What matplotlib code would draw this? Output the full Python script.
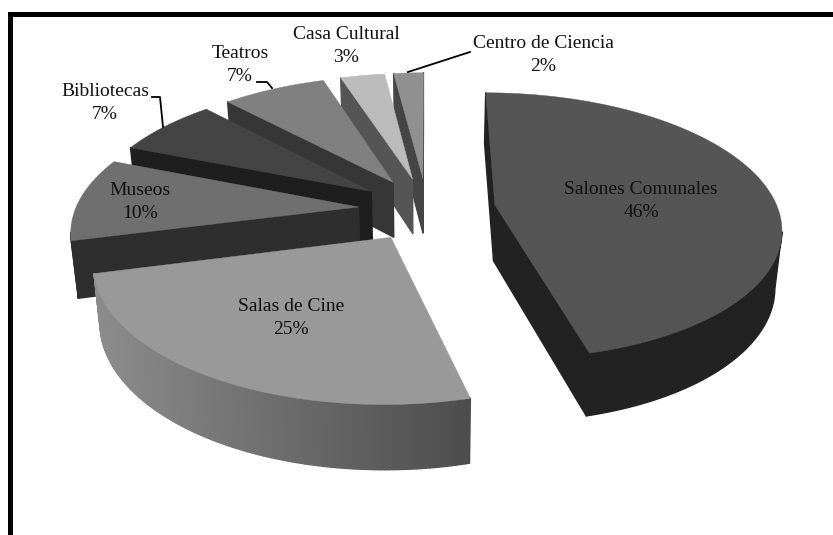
import numpy as np
from matplotlib import pyplot as plt
from matplotlib.patches import Polygon

plt.rcParams['font.family'] = ['Liberation Serif', 'DejaVu Serif']

labels = ["Salones Comunales", "Salas de Cine", "Museos", "Bibliotecas", "Teatros", "Casa Cultural", "Centro de Ciencia"]
values = [46, 25, 10, 7, 7, 3, 2]

top_colors = ["#555555", "#999999", "#6f6f6f", "#444444", "#808080", "#bbbbbb", "#909090"]
# wall colour at the right and left end of each slice
wall_right = ["#222222", "#4d4d4d", "#2e2e2e", "#1e1e1e", "#363636", "#555555", "#454545"]
wall_left = ["#222222", "#8c8c8c", "#2e2e2e", "#1e1e1e", "#363636", "#555555", "#454545"]

# label centres and leader lines, in pixels
label_pos = [(641, 201), (291, 318), (140, 202), (105, 103), (240, 65), (346, 46), (543, 55)]
leaders = [
    [(152, 97), (160, 97), (163, 127)],
    [(257, 82), (267, 82), (272, 88)],
    [(470, 52), (408, 72)],
]

# camera for the tilted pie
U0, V0 = 427, 209
A, B = 283, 131
K = 0.157
H = 56
EXPLODE = 0.243
SHRINK = 0.98


def project(x, y, bottom=False):
    s = 1 / (1 + K * y)
    if bottom:
        return U0 + A * x * s * SHRINK, V0 - B * y * s * SHRINK + H * s
    return U0 + A * x * s, V0 - B * y * s


def wall(ax, pts, color, order):
    # wall under the top edge pts, down to the same edge at the bottom
    upper = [project(*p) for p in pts]
    lower = [project(*p, bottom=True) for p in pts[::-1]]
    ax.add_patch(Polygon(upper + lower, closed=True, fc=color, ec=color, lw=1.0,
                         joinstyle="round", zorder=order))


def gray(c):
    return int(c[1:3], 16)


fig = plt.figure(figsize=(8.33, 5.35), dpi=100)
ax = fig.add_axes([0, 0, 1, 1])
ax.set_xlim(0, 833)
ax.set_ylim(535, 0)
ax.axis("off")

total = sum(values)
edges = np.cumsum([0] + values) / total * 2 * np.pi

# back slices first, so the front ones sit on top
draw_order = [6, 5, 4, 3, 2, 1, 0]
for n, i in enumerate(draw_order):
    t0, t1 = edges[i], edges[i + 1]
    mid = (t0 + t1) / 2
    ox, oy = EXPLODE * np.sin(mid), EXPLODE * np.cos(mid)
    ts = np.linspace(t0, t1, 120)
    arc = [(ox + np.sin(t), oy + np.cos(t)) for t in ts]
    apex = (ox, oy)
    order = 2 + n * 2

    us = [project(*p)[0] for p in arc]
    umin, umax = min(us), max(us)
    gl, gr = gray(wall_left[i]), gray(wall_right[i])

    # only walls that face the viewer
    if project(*arc[0])[0] < project(*apex)[0]:
        wall(ax, [apex, arc[0]], wall_right[i], order)
    if project(*apex)[0] < project(*arc[-1])[0]:
        wall(ax, [arc[-1], apex], wall_right[i], order)
    front = [k for k in range(len(arc) - 1) if us[k + 1] < us[k]]
    if gl == gr:
        if front:
            wall(ax, arc[front[0]:front[-1] + 2], wall_right[i], order)
    else:
        for k in front:
            f = (us[k] - umin) / (umax - umin)
            g = (gl + (gr - gl) * f) / 255
            wall(ax, arc[k:k + 2], (g, g, g), order)

    top = [project(*apex)] + [project(*p) for p in arc]
    ax.add_patch(Polygon(top, closed=True, fc=top_colors[i], ec=top_colors[i], lw=0.3, zorder=order + 1))

for name, val, (x, y) in zip(labels, values, label_pos):
    ax.text(x, y, f"{name}\n{val}%", ha="center", va="center", fontsize=14, color="#111111",
            linespacing=1.45, zorder=30)

for line in leaders:
    xs, ys = zip(*line)
    ax.plot(xs, ys, color="black", lw=1.3, zorder=29)

# frame, only top and left are inside the picture
ax.plot([10.5, 10.5, 833], [535, 13.5, 13.5], color="black", lw=3.6, zorder=40,
        solid_joinstyle="miter", solid_capstyle="butt")

fig.savefig("out.png", dpi=100)
